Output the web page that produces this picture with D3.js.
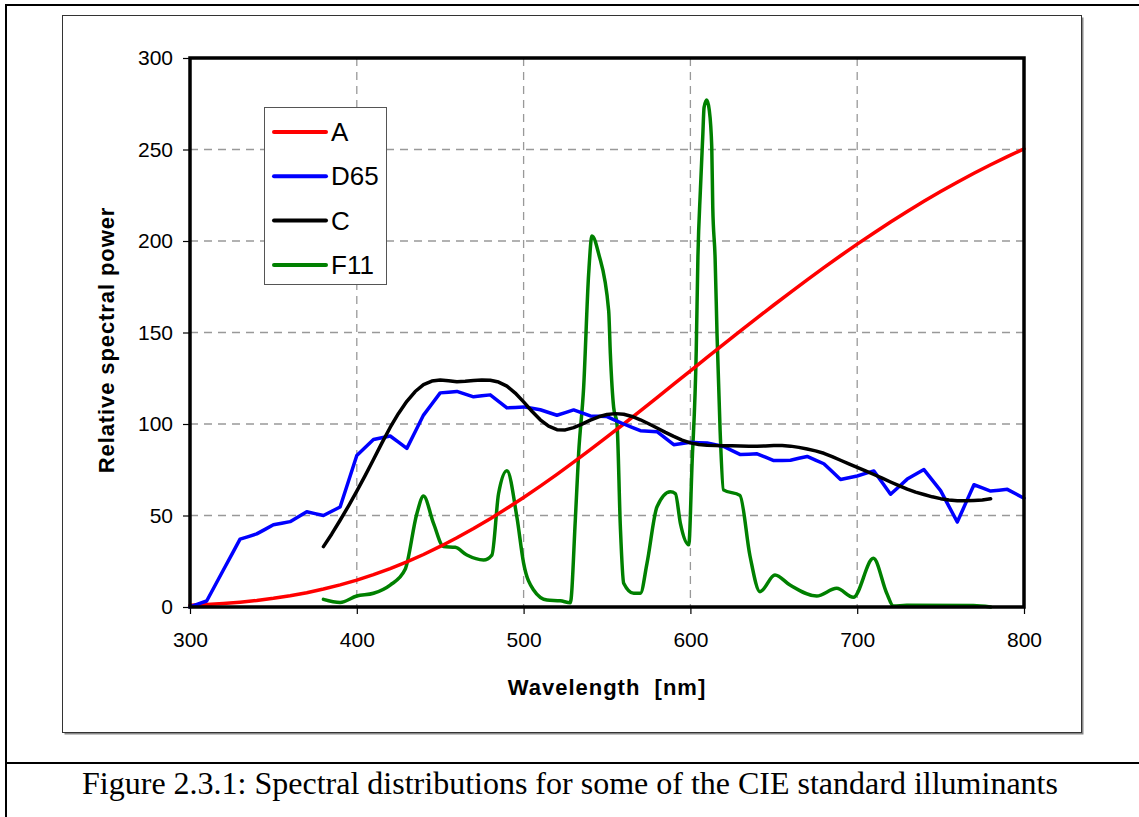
<!DOCTYPE html>
<html>
<head>
<meta charset="utf-8">
<script src="https://cdn.jsdelivr.net/npm/d3@7/dist/d3.min.js"></script>
<style>
  html, body { margin: 0; padding: 0; background: #fff; }
  svg { display: block; }
</style>
</head>
<body>
<svg id="chart" width="1139" height="817"></svg>
<script>
// ---------------- DATA ----------------
const seriesNames = ["A", "D65", "C", "F11"];
const seriesColors = ["#ff0000", "#0000ff", "#000000", "#008000"];

const xTicks = [300, 400, 500, 600, 700, 800];
const yTicks = [0, 50, 100, 150, 200, 250, 300];

// Illuminant A (10 nm steps, 300-800)
const aWavelengths = [300,310,320,330,340,350,360,370,380,390,400,410,420,430,440,450,460,470,480,490,500,510,520,530,540,550,560,570,580,590,600,610,620,630,640,650,660,670,680,690,700,710,720,730,740,750,760,770,780,790,800];
const aValues = [0.93,1.36,1.93,2.66,3.59,4.74,6.14,7.82,9.80,12.09,14.71,17.68,21.00,24.67,28.70,33.09,37.81,42.87,48.24,53.91,59.86,66.06,72.50,79.13,85.95,92.91,100.00,107.18,114.44,121.73,129.04,136.35,143.62,150.84,157.98,165.03,171.96,178.77,185.43,191.93,198.26,204.41,210.36,216.12,221.67,227.00,232.12,237.01,241.68,246.12,250.33];

// Illuminant D65 (5 nm steps, 300-800)
const d65Wavelengths = [300,305,310,315,320,325,330,335,340,345,350,355,360,365,370,375,380,385,390,395,400,405,410,415,420,425,430,435,440,445,450,455,460,465,470,475,480,485,490,495,500,505,510,515,520,525,530,535,540,545,550,555,560,565,570,575,580,585,590,595,600,605,610,615,620,625,630,635,640,645,650,655,660,665,670,675,680,685,690,695,700,705,710,715,720,725,730,735,740,745,750,755,760,765,770,775,780,785,790,795,800];
const d65Values = [0.03,1.66,3.29,11.77,20.24,28.64,37.05,38.50,39.95,42.43,44.91,45.78,46.64,49.36,52.09,51.03,49.98,52.31,54.65,68.70,82.75,87.12,91.49,92.46,93.43,90.06,86.68,95.77,104.87,110.94,117.01,117.41,117.81,116.34,114.86,115.39,115.92,112.37,108.81,109.08,109.35,108.58,107.80,106.30,104.79,106.24,107.69,106.05,104.41,104.23,104.05,102.02,100.00,98.17,96.33,96.06,95.79,92.24,88.69,89.35,90.01,89.80,89.60,88.65,87.70,85.49,83.29,83.49,83.70,81.86,80.03,80.12,80.21,81.25,82.28,80.28,78.28,74.00,69.72,70.67,71.61,72.98,74.35,67.98,61.60,65.74,69.89,72.49,75.09,69.34,63.59,55.01,46.42,56.61,66.81,65.09,63.38,63.84,64.30,61.88,59.45];

// Illuminant C (5 nm steps, 380-780)
const cWavelengths = [380,385,390,395,400,405,410,415,420,425,430,435,440,445,450,455,460,465,470,475,480,485,490,495,500,505,510,515,520,525,530,535,540,545,550,555,560,565,570,575,580,585,590,595,600,605,610,615,620,625,630,635,640,645,650,655,660,665,670,675,680,685,690,695,700,705,710,715,720,725,730,735,740,745,750,755,760,765,770,775,780];
const cValues = [33.00,39.92,47.40,55.17,63.30,71.81,80.60,89.53,98.10,105.80,112.40,117.75,121.50,123.45,124.00,123.60,123.10,123.30,123.80,124.09,123.90,122.92,120.70,116.90,112.10,106.98,102.30,98.81,96.90,96.78,98.00,99.94,102.10,103.95,105.20,105.67,105.30,104.11,102.30,100.15,97.80,95.43,93.20,91.22,89.70,88.83,88.40,88.19,88.10,88.06,88.00,87.86,87.80,87.99,88.20,88.20,87.90,87.22,86.30,85.30,84.00,82.21,80.20,78.24,76.30,74.36,72.40,70.40,68.30,66.30,64.40,62.80,61.50,60.20,59.20,58.50,58.10,58.00,58.20,58.50,59.10];

// Illuminant F11
const f11Wavelengths = [380,390,400,410,420,429,436,440,446,452,459,466,476,481,485,490,496,500,506,514,522,528,531,533,536,539,541,545,551,552,554,556,558,560,566,570,574,580,588,591,594,599,601,603.5,604.5,606,607.4,608.2,609.8,611.3,612.8,613.4,614.8,616,617.8,619.8,629.7,635.7,641.7,650.7,659.7,675.7,687.7,697.7,709.7,717.7,721.7,729.7,769.6,780];
const f11Values = [4.2,2.5,6,7.5,12,20.6,51,60.6,45.7,33,32.6,28.4,25.7,28.4,62,74.5,49,24,9.3,3.8,3.4,2.3,47.5,84,120,182,202.7,193,162,138.6,109,100,44,13,7.5,7.5,24,54.8,63,62,45.7,34,78.5,140,191,228,257,273,277,271.6,251.5,218.7,191,148,96.7,64,61,28,8.4,17.5,12,6,10.2,5.3,26.6,7.5,0.5,1,0.8,0];

const captionText = "Figure 2.3.1: Spectral distributions for some of the CIE standard illuminants";
const xTitle = "Wavelength  [nm]";
const yTitle = "Relative spectral power";

// ---------------- DRAW ----------------
const svg = d3.select("#chart");
const W = 1139, H = 817;
const plot = { left: 190, right: 1024, top: 58, bottom: 607 };

// outer document frame
svg.append("rect")
  .attr("x", 6).attr("y", 5)
  .attr("width", W + 20).attr("height", H + 20)
  .attr("fill", "#fff").attr("stroke", "#000").attr("stroke-width", 2);
svg.append("line")
  .attr("x1", 6).attr("x2", W + 10).attr("y1", 763).attr("y2", 763)
  .attr("stroke", "#000").attr("stroke-width", 2);

// chart area frame (with slight shadow)
svg.append("rect")
  .attr("x", 64.5).attr("y", 17.5).attr("width", 1019).attr("height", 717)
  .attr("fill", "#888").attr("stroke", "none");
svg.append("rect")
  .attr("x", 62.5).attr("y", 15.5).attr("width", 1019).attr("height", 717)
  .attr("fill", "#fff").attr("stroke", "#333").attr("stroke-width", 1);

const x = d3.scaleLinear().domain([300, 800]).range([plot.left, plot.right]);
const y = d3.scaleLinear().domain([0, 300]).range([plot.bottom, plot.top]);

// gridlines
const grid = svg.append("g");
grid.selectAll("line.v").data(xTicks.filter(d => d > 300 && d < 800)).join("line")
  .attr("x1", d => x(d)).attr("x2", d => x(d))
  .attr("y1", plot.top).attr("y2", plot.bottom)
  .attr("stroke", "#999").attr("stroke-width", 1.3).attr("stroke-dasharray", "8,6");
grid.selectAll("line.h").data(yTicks.filter(d => d > 0 && d < 300)).join("line")
  .attr("x1", plot.left).attr("x2", plot.right)
  .attr("y1", d => y(d)).attr("y2", d => y(d))
  .attr("stroke", "#999").attr("stroke-width", 1.3).attr("stroke-dasharray", "8,6");

// axes
const fontFam = "Arial, 'Liberation Sans', sans-serif";
const yAxis = svg.append("g").attr("transform", `translate(${plot.left},0)`)
  .call(d3.axisLeft(y).tickValues(yTicks).tickSize(7).tickPadding(10).tickFormat(d3.format("d")));
const xAxis = svg.append("g").attr("transform", `translate(0,${plot.bottom})`)
  .call(d3.axisBottom(x).tickValues(xTicks).tickSize(7).tickPadding(18).tickFormat(d3.format("d")));
[yAxis, xAxis].forEach(g => {
  g.select(".domain").remove();
  g.selectAll(".tick line").attr("stroke", "#000").attr("stroke-width", 1.2);
  g.selectAll(".tick text").attr("font-family", fontFam).attr("font-size", 21).attr("fill", "#000");
});

// series
const series = [
  { name: seriesNames[0], color: seriesColors[0], xs: aWavelengths, ys: aValues, curve: d3.curveLinear },
  { name: seriesNames[1], color: seriesColors[1], xs: d65Wavelengths, ys: d65Values, curve: d3.curveLinear },
  { name: seriesNames[2], color: seriesColors[2], xs: cWavelengths, ys: cValues, curve: d3.curveLinear },
  { name: seriesNames[3], color: seriesColors[3], xs: f11Wavelengths, ys: f11Values, curve: d3.curveMonotoneX }
];
const drawOrder = [3, 0, 1, 2];
drawOrder.forEach(i => {
  const s = series[i];
  const pts = s.xs.map((w, k) => [w, s.ys[k]]);
  const line = d3.line().x(d => x(d[0])).y(d => y(d[1])).curve(s.curve);
  svg.append("path").datum(pts)
    .attr("d", line)
    .attr("fill", "none").attr("stroke", s.color)
    .attr("stroke-width", 3.5).attr("stroke-linejoin", "round").attr("stroke-linecap", "round");
});

// plot border
svg.append("rect")
  .attr("x", plot.left).attr("y", plot.top)
  .attr("width", plot.right - plot.left).attr("height", plot.bottom - plot.top)
  .attr("fill", "none").attr("stroke", "#000").attr("stroke-width", 3.5);

// legend
const lg = svg.append("g");
lg.append("rect").attr("x", 264.5).attr("y", 107.5).attr("width", 122).attr("height", 177)
  .attr("fill", "#fff").attr("stroke", "#555").attr("stroke-width", 1);
series.forEach((s, i) => {
  const cy = 132 + i * 44.3;
  lg.append("line").attr("x1", 274).attr("x2", 326).attr("y1", cy).attr("y2", cy)
    .attr("stroke", s.color).attr("stroke-width", 4).attr("stroke-linecap", "round");
  lg.append("text").attr("x", 331).attr("y", cy + 9)
    .attr("font-family", fontFam).attr("font-size", 26).attr("fill", "#000")
    .text(s.name);
});

// axis titles
svg.append("text")
  .attr("x", 607).attr("y", 695)
  .attr("text-anchor", "middle")
  .attr("font-family", fontFam).attr("font-size", 22).attr("font-weight", "bold")
  .attr("letter-spacing", 1)
  .style("white-space", "pre")
  .text(xTitle);
svg.append("text")
  .attr("transform", `translate(114,340) rotate(-90)`)
  .attr("text-anchor", "middle")
  .attr("font-family", fontFam).attr("font-size", 22).attr("font-weight", "bold")
  .attr("letter-spacing", 0.9)
  .text(yTitle);

// caption
svg.append("text")
  .attr("x", 570).attr("y", 794)
  .attr("text-anchor", "middle")
  .attr("font-family", "'Times New Roman', 'Liberation Serif', serif")
  .attr("font-size", 32).attr("fill", "#000")
  .text(captionText);
</script>
</body>
</html>
